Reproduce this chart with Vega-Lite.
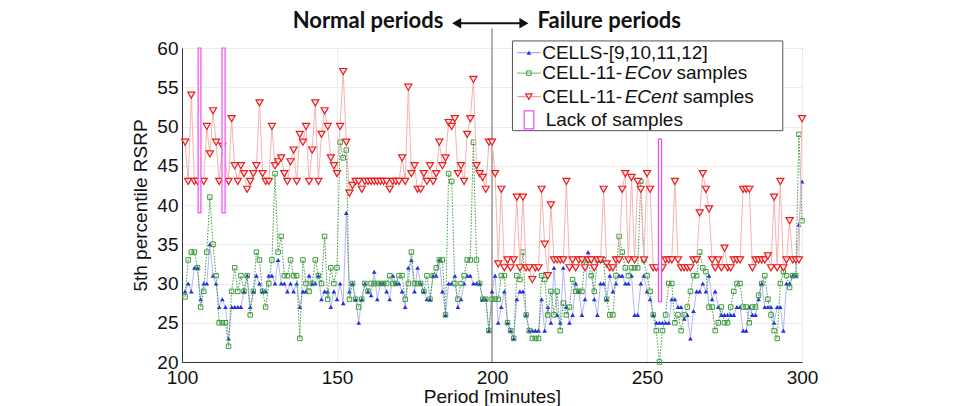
{
  "$schema": "https://vega.github.io/schema/vega-lite/v6.json",
  "width": 620,
  "height": 314,
  "autosize": {"type": "none"},
  "padding": {"left": 182, "top": 48, "right": 159, "bottom": 44},
  "background": "white",
  "config": {
    "view": {"stroke": "#333", "strokeWidth": 1},
    "axis": {
      "grid": true, "gridColor": "#ececec", "gridWidth": 1,
      "ticks": false, "domainColor": "#333", "labelFlush": false, "labelOverlap": false,
      "labelFont": "Liberation Sans", "labelFontSize": 19, "labelColor": "#111",
      "titleFont": "Liberation Sans", "titleFontSize": 19, "titleFontWeight": "normal", "titleColor": "#111"
    },
    "axisX": {"labelPadding": 6, "titlePadding": 0, "tickCount": 4},
    "axisY": {"labelPadding": 4, "titlePadding": 6, "tickCount": 8}
  },
  "datasets": {
    "rows": [
      {"t":101,"b":29,"g":28.3,"r":48},{"t":102,"b":30,"g":33,"r":43},{"t":103,"b":29,"g":34,"r":54},{"t":104,"b":32,"g":34,"r":43},{"t":105,"b":32,"g":32,"r":43},
      {"t":106,"b":28,"g":27,"r":null},{"t":107,"b":30,"g":29,"r":43},{"t":108,"b":30,"g":34,"r":50},{"t":109,"b":35,"g":41,"r":46.5},{"t":110,"b":31,"g":35,"r":52},
      {"t":111,"b":30,"g":31,"r":48},{"t":112,"b":27,"g":25,"r":43},{"t":113,"b":28,"g":25,"r":47.5},{"t":114,"b":27,"g":25,"r":null},{"t":115,"b":23,"g":22,"r":43},
      {"t":116,"b":27,"g":29,"r":51},{"t":117,"b":27,"g":32,"r":45},{"t":118,"b":27,"g":29,"r":43},{"t":119,"b":27,"g":31,"r":45},{"t":120,"b":29,"g":29,"r":44},
      {"t":121,"b":31,"g":31,"r":42},{"t":122,"b":27,"g":26,"r":43},{"t":123,"b":29,"g":29,"r":44},{"t":124,"b":31,"g":34,"r":45},{"t":125,"b":30,"g":33,"r":53},
      {"t":126,"b":29,"g":29,"r":44},{"t":127,"b":29,"g":27,"r":43},{"t":128,"b":31,"g":30,"r":43},{"t":129,"b":31,"g":33,"r":50},{"t":130,"b":30,"g":44,"r":45},
      {"t":131,"b":33,"g":34,"r":45.5},{"t":132,"b":30,"g":36,"r":46},{"t":133,"b":30,"g":31,"r":44},{"t":134,"b":29,"g":31,"r":43},{"t":135,"b":30,"g":33,"r":45.5},
      {"t":136,"b":29,"g":31,"r":47},{"t":137,"b":30,"g":31,"r":43},{"t":138,"b":27,"g":23,"r":49},{"t":139,"b":29,"g":33,"r":48},{"t":140,"b":29,"g":30,"r":50},
      {"t":141,"b":31,"g":29,"r":43},{"t":142,"b":30,"g":30,"r":47},{"t":143,"b":30,"g":33,"r":53},{"t":144,"b":31,"g":31,"r":43},{"t":145,"b":28,"g":30,"r":49},
      {"t":146,"b":29,"g":36,"r":52},{"t":147,"b":29,"g":28,"r":50},{"t":148,"b":27,"g":32,"r":46},{"t":149,"b":29,"g":30,"r":45},{"t":150,"b":28,"g":32,"r":44},
      {"t":151,"b":30,"g":48,"r":50},{"t":152,"b":27.5,"g":46,"r":57},{"t":153,"b":39,"g":47,"r":48},{"t":154,"b":29,"g":28,"r":41.5},{"t":155,"b":30,"g":30,"r":42.5},
      {"t":156,"b":28,"g":28,"r":43},{"t":157,"b":25,"g":27,"r":43},{"t":158,"b":28,"g":28,"r":42},{"t":159,"b":30,"g":30,"r":43},{"t":160,"b":29,"g":29,"r":43},
      {"t":161,"b":28.5,"g":30,"r":43},{"t":162,"b":31.5,"g":30,"r":43},{"t":163,"b":28,"g":30,"r":43},{"t":164,"b":30,"g":30,"r":43},{"t":165,"b":30,"g":30,"r":43},
      {"t":166,"b":29,"g":30,"r":43},{"t":167,"b":28,"g":31,"r":42},{"t":168,"b":31,"g":30,"r":43},{"t":169,"b":30,"g":30,"r":43},{"t":170,"b":30,"g":31,"r":43},
      {"t":171,"b":29,"g":31,"r":46},{"t":172,"b":27,"g":28,"r":43},{"t":173,"b":32,"g":30,"r":55},{"t":174,"b":33,"g":34,"r":44},{"t":175,"b":29,"g":30,"r":45},
      {"t":176,"b":32,"g":30,"r":42},{"t":177,"b":30,"g":30,"r":42},{"t":178,"b":29,"g":29,"r":44},{"t":179,"b":28,"g":31,"r":43},{"t":180,"b":28,"g":28,"r":45},
      {"t":181,"b":31,"g":31,"r":43},{"t":182,"b":31,"g":32,"r":44},{"t":183,"b":33,"g":33,"r":48},{"t":184,"b":29,"g":33,"r":45},{"t":185,"b":26,"g":26,"r":46},
      {"t":186,"b":30,"g":44,"r":50.5},{"t":187,"b":30,"g":43,"r":50},{"t":188,"b":31,"g":30,"r":51},{"t":189,"b":27,"g":28,"r":44},{"t":190,"b":28,"g":30,"r":45},
      {"t":191,"b":30,"g":31,"r":43},{"t":192,"b":31,"g":33,"r":49},{"t":193,"b":31,"g":33,"r":51},{"t":194,"b":30,"g":48,"r":56},{"t":195,"b":30,"g":33,"r":45},
      {"t":196,"b":30,"g":30,"r":44},{"t":197,"b":28,"g":28,"r":43.5},{"t":198,"b":28,"g":28,"r":42},{"t":199,"b":24,"g":24,"r":48},{"t":200,"b":29,"g":28,"r":48},
      {"t":201,"b":31,"g":28,"r":44},{"t":202,"b":25,"g":28,"r":32.5},{"t":203,"b":27,"g":31,"r":42},{"t":204,"b":29,"g":31,"r":32},{"t":205,"b":25,"g":25,"r":33},
      {"t":206,"b":24,"g":24,"r":32},{"t":207,"b":23,"g":23,"r":33},{"t":208,"b":28,"g":31,"r":41},{"t":209,"b":29,"g":30.5,"r":32},{"t":210,"b":29,"g":34,"r":41},
      {"t":211,"b":26,"g":26,"r":32},{"t":212,"b":24,"g":24,"r":32},{"t":213,"b":24,"g":23,"r":30.5},{"t":214,"b":24,"g":23,"r":32},{"t":215,"b":24,"g":23,"r":32},
      {"t":216,"b":28,"g":31,"r":42},{"t":217,"b":24,"g":30.5,"r":35},{"t":218,"b":27,"g":26,"r":31},{"t":219,"b":25,"g":29,"r":40},{"t":220,"b":32,"g":26,"r":33},
      {"t":221,"b":26,"g":29,"r":33},{"t":222,"b":25,"g":24,"r":33},{"t":223,"b":32,"g":27.5,"r":33},{"t":224,"b":27,"g":26,"r":43},{"t":225,"b":25,"g":27,"r":32},
      {"t":226,"b":26,"g":30.5,"r":33},{"t":227,"b":30,"g":29,"r":32},{"t":228,"b":29,"g":29,"r":33},{"t":229,"b":26,"g":29,"r":33},{"t":230,"b":28,"g":33,"r":32},
      {"t":231,"b":34,"g":33,"r":33},{"t":232,"b":33,"g":31,"r":33},{"t":233,"b":28,"g":29,"r":32},{"t":234,"b":26,"g":33,"r":33},{"t":235,"b":30,"g":33,"r":33},
      {"t":236,"b":30,"g":33,"r":42},{"t":237,"b":28,"g":28,"r":32.5},{"t":238,"b":31,"g":26,"r":32},{"t":239,"b":29,"g":26,"r":32},{"t":240,"b":30,"g":31,"r":33},
      {"t":241,"b":31,"g":36,"r":33},{"t":242,"b":31,"g":34,"r":42},{"t":243,"b":30,"g":32,"r":44},{"t":244,"b":30,"g":31,"r":33},{"t":245,"b":31,"g":32,"r":43.5},
      {"t":246,"b":26,"g":32,"r":33},{"t":247,"b":26,"g":32,"r":43},{"t":248,"b":30,"g":43,"r":42},{"t":249,"b":31,"g":33,"r":33},{"t":250,"b":29,"g":31,"r":44},
      {"t":251,"b":28,"g":29,"r":42},{"t":252,"b":26,"g":26,"r":32},{"t":253,"b":25,"g":24,"r":32},{"t":254,"b":25,"g":20,"r":null},{"t":255,"b":25,"g":24,"r":32},
      {"t":256,"b":25,"g":26,"r":33},{"t":257,"b":25,"g":30,"r":33},{"t":258,"b":28,"g":30,"r":33},{"t":259,"b":28,"g":25,"r":43},{"t":260,"b":27,"g":26,"r":33},
      {"t":261,"b":27,"g":24,"r":32},{"t":262,"b":25.5,"g":26,"r":32},{"t":263,"b":26,"g":27,"r":32},{"t":264,"b":23,"g":29,"r":32},{"t":265,"b":26.5,"g":31,"r":33},
      {"t":266,"b":29,"g":31,"r":33},{"t":267,"b":29,"g":34,"r":39},{"t":268,"b":30,"g":32,"r":44},{"t":269,"b":29,"g":31.5,"r":42},{"t":270,"b":31,"g":27,"r":39.5},
      {"t":271,"b":28,"g":27,"r":33},{"t":272,"b":29,"g":24,"r":32},{"t":273,"b":27,"g":25,"r":33},{"t":274,"b":26,"g":27,"r":32},{"t":275,"b":26,"g":25,"r":34.5},
      {"t":276,"b":26,"g":25,"r":32},{"t":277,"b":26,"g":27,"r":32},{"t":278,"b":26,"g":29,"r":33},{"t":279,"b":27,"g":30,"r":33},{"t":280,"b":27,"g":30,"r":33},
      {"t":281,"b":24,"g":27,"r":42},{"t":282,"b":24,"g":27,"r":42},{"t":283,"b":27,"g":25,"r":42},{"t":284,"b":26,"g":27,"r":32},{"t":285,"b":26,"g":27,"r":33},
      {"t":286,"b":28,"g":28.5,"r":33},{"t":287,"b":30,"g":30,"r":33},{"t":288,"b":27,"g":31,"r":33},{"t":289,"b":27,"g":28,"r":33.5},{"t":290,"b":27,"g":26,"r":32},
      {"t":291,"b":25,"g":24,"r":41},{"t":292,"b":27,"g":23,"r":32},{"t":293,"b":27,"g":30,"r":43},{"t":294,"b":24,"g":31.5,"r":32},{"t":295,"b":30,"g":31,"r":33},
      {"t":296,"b":30,"g":29.5,"r":38},{"t":297,"b":31,"g":31,"r":33},{"t":298,"b":31,"g":31,"r":33},{"t":299,"b":37.5,"g":49,"r":33},{"t":300,"b":43,"g":38,"r":51}
    ],
    "gaps": [
      {"from": 105.2, "to": 106.1, "top": 60, "bottom": 39},
      {"from": 112.9, "to": 113.9, "top": 60, "bottom": 39},
      {"from": 253.7, "to": 254.7, "top": 48.4, "bottom": 27.7}
    ]
  },
  "layer": [
    {
      "data": {"name": "rows"},
      "mark": {"type": "line", "color": "#b3b8f3", "strokeWidth": 1},
      "encoding": {
        "x": {"field": "t", "type": "quantitative", "title": "Period [minutes]",
              "scale": {"domain": [100, 300], "nice": false, "zero": false}},
        "y": {"field": "b", "type": "quantitative", "title": "5th percentile RSRP",
              "scale": {"domain": [20, 60], "nice": false, "zero": false}}
      }
    },
    {
      "data": {"values": [{}]},
      "mark": {"type": "rule", "color": "#8a8a8a", "strokeWidth": 1.3},
      "encoding": {
        "x": {"datum": 200, "type": "quantitative", "title": "Period [minutes]"},
        "y": {"datum": 62.5, "type": "quantitative", "title": "5th percentile RSRP"},
        "y2": {"datum": 20}
      }
    },
    {
      "data": {"name": "rows"},
      "mark": {"type": "point", "shape": "triangle-up", "filled": true, "color": "#1f30e6", "size": 22, "opacity": 1},
      "encoding": {
        "x": {"field": "t", "type": "quantitative", "title": "Period [minutes]"},
        "y": {"field": "b", "type": "quantitative", "title": "5th percentile RSRP"}
      }
    },
    {
      "data": {"name": "rows"},
      "mark": {"type": "line", "color": "#3f9b3f", "strokeWidth": 1, "strokeDash": [1.5, 1.5]},
      "encoding": {
        "x": {"field": "t", "type": "quantitative", "title": "Period [minutes]"},
        "y": {"field": "g", "type": "quantitative", "title": "5th percentile RSRP"}
      }
    },
    {
      "data": {"name": "rows"},
      "mark": {"type": "point", "shape": "square", "filled": false, "color": "#3f9b3f", "size": 20, "strokeWidth": 1, "opacity": 1},
      "encoding": {
        "x": {"field": "t", "type": "quantitative", "title": "Period [minutes]"},
        "y": {"field": "g", "type": "quantitative", "title": "5th percentile RSRP"}
      }
    },
    {
      "data": {"name": "rows"},
      "transform": [{"filter": "isValid(datum.r)"}],
      "mark": {"type": "line", "color": "#f5b3b3", "strokeWidth": 1},
      "encoding": {
        "x": {"field": "t", "type": "quantitative", "title": "Period [minutes]"},
        "y": {"field": "r", "type": "quantitative", "title": "5th percentile RSRP"}
      }
    },
    {
      "data": {"name": "rows"},
      "transform": [{"filter": "isValid(datum.r)"}],
      "mark": {"type": "point", "shape": "triangle-down", "filled": true, "fill": "#fdeaea", "stroke": "#ec1c1c", "strokeWidth": 1.2, "size": 50, "opacity": 1},
      "encoding": {
        "x": {"field": "t", "type": "quantitative", "title": "Period [minutes]"},
        "y": {"field": "r", "type": "quantitative", "title": "5th percentile RSRP"}
      }
    },
    {
      "data": {"name": "gaps"},
      "mark": {"type": "rect", "fill": "white", "stroke": "#f24af2", "strokeWidth": 1.2},
      "encoding": {
        "x": {"field": "from", "type": "quantitative", "title": "Period [minutes]"},
        "x2": {"field": "to"},
        "y": {"field": "top", "type": "quantitative", "title": "5th percentile RSRP"},
        "y2": {"field": "bottom"}
      }
    },
    {
      "data": {"values": [{}]},
      "mark": {"type": "text", "text": "Normal periods", "align": "right", "baseline": "middle", "font": "Lato", "fontWeight": "bold", "fontSize": 22, "color": "#111"},
      "encoding": {
        "x": {"datum": 184.3, "type": "quantitative", "title": "Period [minutes]"},
        "y": {"datum": 63.4, "type": "quantitative", "title": "5th percentile RSRP"}
      }
    },
    {
      "data": {"values": [{}]},
      "mark": {"type": "text", "text": "Failure periods", "align": "left", "baseline": "middle", "font": "Lato", "fontWeight": "bold", "fontSize": 22, "color": "#111"},
      "encoding": {
        "x": {"datum": 214.7, "type": "quantitative", "title": "Period [minutes]"},
        "y": {"datum": 63.4, "type": "quantitative", "title": "5th percentile RSRP"}
      }
    },
    {
      "data": {"values": [{}]},
      "mark": {"type": "rule", "color": "#111", "strokeWidth": 2},
      "encoding": {
        "x": {"datum": 189.5, "type": "quantitative", "title": "Period [minutes]"},
        "x2": {"datum": 209.5},
        "y": {"datum": 63.15, "type": "quantitative", "title": "5th percentile RSRP"}
      }
    },
    {
      "data": {"values": [{}]},
      "mark": {"type": "point", "shape": "triangle-left", "filled": true, "color": "#111", "size": 110, "opacity": 1},
      "encoding": {
        "x": {"datum": 188.6, "type": "quantitative", "title": "Period [minutes]"},
        "y": {"datum": 63.15, "type": "quantitative", "title": "5th percentile RSRP"}
      }
    },
    {
      "data": {"values": [{}]},
      "mark": {"type": "point", "shape": "triangle-right", "filled": true, "color": "#111", "size": 110, "opacity": 1},
      "encoding": {
        "x": {"datum": 210.3, "type": "quantitative", "title": "Period [minutes]"},
        "y": {"datum": 63.15, "type": "quantitative", "title": "5th percentile RSRP"}
      }
    },
    {
      "data": {"values": [{}]},
      "mark": {"type": "rect", "fill": "white", "stroke": "#555", "strokeWidth": 1},
      "encoding": {
        "x": {"datum": 206.6, "type": "quantitative", "title": "Period [minutes]"},
        "x2": {"datum": 293.8},
        "y": {"datum": 60.9, "type": "quantitative", "title": "5th percentile RSRP"},
        "y2": {"datum": 49.47}
      }
    },
    {
      "data": {"values": [{}]},
      "mark": {"type": "rule", "color": "#8f97f0", "strokeWidth": 1},
      "encoding": {
        "x": {"datum": 208.1, "type": "quantitative", "title": "Period [minutes]"},
        "x2": {"datum": 215.7},
        "y": {"datum": 59.4, "type": "quantitative", "title": "5th percentile RSRP"}
      }
    },
    {
      "data": {"values": [{}]},
      "mark": {"type": "point", "shape": "triangle-up", "filled": true, "color": "#1f30e6", "size": 22, "opacity": 1},
      "encoding": {
        "x": {"datum": 211.9, "type": "quantitative", "title": "Period [minutes]"},
        "y": {"datum": 59.4, "type": "quantitative", "title": "5th percentile RSRP"}
      }
    },
    {
      "data": {"values": [{}]},
      "mark": {"type": "rule", "color": "#6cb56c", "strokeWidth": 1},
      "encoding": {
        "x": {"datum": 208.1, "type": "quantitative", "title": "Period [minutes]"},
        "x2": {"datum": 215.7},
        "y": {"datum": 56.8, "type": "quantitative", "title": "5th percentile RSRP"}
      }
    },
    {
      "data": {"values": [{}]},
      "mark": {"type": "point", "shape": "square", "filled": false, "color": "#3f9b3f", "size": 20, "strokeWidth": 1, "opacity": 1},
      "encoding": {
        "x": {"datum": 211.9, "type": "quantitative", "title": "Period [minutes]"},
        "y": {"datum": 56.8, "type": "quantitative", "title": "5th percentile RSRP"}
      }
    },
    {
      "data": {"values": [{}]},
      "mark": {"type": "rule", "color": "#f08a8a", "strokeWidth": 1},
      "encoding": {
        "x": {"datum": 208.1, "type": "quantitative", "title": "Period [minutes]"},
        "x2": {"datum": 215.7},
        "y": {"datum": 53.8, "type": "quantitative", "title": "5th percentile RSRP"}
      }
    },
    {
      "data": {"values": [{}]},
      "mark": {"type": "point", "shape": "triangle-down", "filled": true, "fill": "#fdeaea", "stroke": "#ec1c1c", "strokeWidth": 1.2, "size": 40, "opacity": 1},
      "encoding": {
        "x": {"datum": 211.9, "type": "quantitative", "title": "Period [minutes]"},
        "y": {"datum": 53.8, "type": "quantitative", "title": "5th percentile RSRP"}
      }
    },
    {
      "data": {"values": [{}]},
      "mark": {"type": "rect", "fill": "white", "stroke": "#f24af2", "strokeWidth": 1.2},
      "encoding": {
        "x": {"datum": 210.4, "type": "quantitative", "title": "Period [minutes]"},
        "x2": {"datum": 213.5},
        "y": {"datum": 52.0, "type": "quantitative", "title": "5th percentile RSRP"},
        "y2": {"datum": 49.7}
      }
    },
    {
      "data": {"values": [{}]},
      "mark": {"type": "text", "text": "CELLS-[9,10,11,12]", "align": "left", "baseline": "middle", "font": "Liberation Sans", "fontSize": 19, "color": "#111"},
      "encoding": {
        "x": {"datum": 216.2, "type": "quantitative", "title": "Period [minutes]"},
        "y": {"datum": 59.4, "type": "quantitative", "title": "5th percentile RSRP"}
      }
    },
    {
      "data": {"values": [{}]},
      "mark": {"type": "text", "text": "CELL-11-", "align": "left", "baseline": "middle", "font": "Liberation Sans", "fontSize": 19, "color": "#111"},
      "encoding": {
        "x": {"datum": 216.2, "type": "quantitative", "title": "Period [minutes]"},
        "y": {"datum": 56.8, "type": "quantitative", "title": "5th percentile RSRP"}
      }
    },
    {
      "data": {"values": [{}]},
      "mark": {"type": "text", "text": "ECov", "align": "left", "baseline": "middle", "font": "Liberation Sans", "fontStyle": "italic", "fontSize": 19, "color": "#111"},
      "encoding": {
        "x": {"datum": 242.8, "type": "quantitative", "title": "Period [minutes]"},
        "y": {"datum": 56.8, "type": "quantitative", "title": "5th percentile RSRP"}
      }
    },
    {
      "data": {"values": [{}]},
      "mark": {"type": "text", "text": "samples", "align": "left", "baseline": "middle", "font": "Liberation Sans", "fontSize": 19, "color": "#111"},
      "encoding": {
        "x": {"datum": 259.5, "type": "quantitative", "title": "Period [minutes]"},
        "y": {"datum": 56.8, "type": "quantitative", "title": "5th percentile RSRP"}
      }
    },
    {
      "data": {"values": [{}]},
      "mark": {"type": "text", "text": "CELL-11-", "align": "left", "baseline": "middle", "font": "Liberation Sans", "fontSize": 19, "color": "#111"},
      "encoding": {
        "x": {"datum": 216.2, "type": "quantitative", "title": "Period [minutes]"},
        "y": {"datum": 53.8, "type": "quantitative", "title": "5th percentile RSRP"}
      }
    },
    {
      "data": {"values": [{}]},
      "mark": {"type": "text", "text": "ECent", "align": "left", "baseline": "middle", "font": "Liberation Sans", "fontStyle": "italic", "fontSize": 19, "color": "#111"},
      "encoding": {
        "x": {"datum": 242.8, "type": "quantitative", "title": "Period [minutes]"},
        "y": {"datum": 53.8, "type": "quantitative", "title": "5th percentile RSRP"}
      }
    },
    {
      "data": {"values": [{}]},
      "mark": {"type": "text", "text": "samples", "align": "left", "baseline": "middle", "font": "Liberation Sans", "fontSize": 19, "color": "#111"},
      "encoding": {
        "x": {"datum": 261.6, "type": "quantitative", "title": "Period [minutes]"},
        "y": {"datum": 53.8, "type": "quantitative", "title": "5th percentile RSRP"}
      }
    },
    {
      "data": {"values": [{}]},
      "mark": {"type": "text", "text": "Lack of samples", "align": "left", "baseline": "middle", "font": "Liberation Sans", "fontSize": 19, "color": "#111"},
      "encoding": {
        "x": {"datum": 217.3, "type": "quantitative", "title": "Period [minutes]"},
        "y": {"datum": 50.8, "type": "quantitative", "title": "5th percentile RSRP"}
      }
    }
  ]
}
